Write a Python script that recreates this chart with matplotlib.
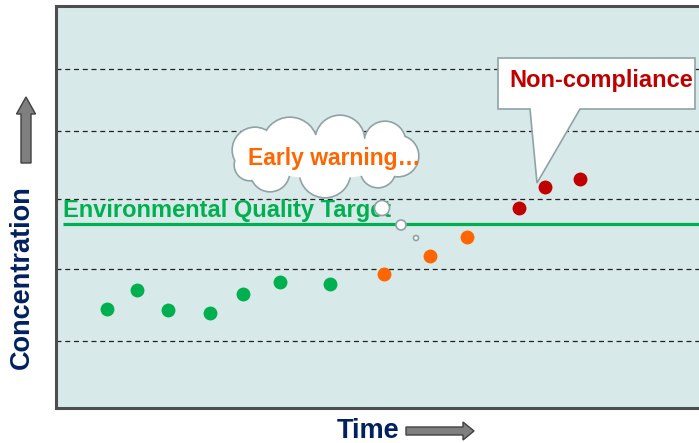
import matplotlib

matplotlib.use("Agg")
import matplotlib.pyplot as plt
from matplotlib.patches import Circle, Ellipse, Polygon, FancyArrow
from matplotlib.transforms import Affine2D

W, H = 699, 443

# Data (arbitrary units, axes run 0..100 on both sides)
green_t = [7.9, 12.5, 17.3, 23.7, 28.7, 34.4, 42.2]
green_c = [24.5, 29.3, 24.3, 23.5, 28.3, 31.3, 30.8]
orange_t = [50.4, 57.6, 63.3]
orange_c = [33.3, 37.8, 42.5]
red_t = [71.2, 75.3, 80.6]
red_c = [49.8, 55.0, 56.8]
grid_c = [84.3, 68.8, 52.0, 34.5, 16.5]
target_c = 45.8

BG = "#d7eae9"
GREEN = "#00b050"
ORANGE = "#ff6600"
RED = "#c00000"
NAVY = "#002060"
EDGE = "#8fa3a6"

plt.rcParams["font.family"] = ["Liberation Sans", "DejaVu Sans"]

fig = plt.figure(figsize=(W / 100, H / 100), dpi=100)
ax = fig.add_axes([56 / W, (H - 407.5) / H, (706 - 56) / W, (407.5 - 6) / H])
ax.set_facecolor(BG)
ax.set_xlim(0, 100)
ax.set_ylim(0, 100)
ax.set_xticks([])
ax.set_yticks([])
for s in ["left", "top", "bottom"]:
    ax.spines[s].set_color("#4d4d4d")
    ax.spines[s].set_linewidth(2.2)
ax.spines["right"].set_visible(False)

# pixel transform (origin top-left) for the decorations
pix = Affine2D().scale(1 / W, -1 / H).translate(0, 1) + fig.transFigure

for g in grid_c:
    ax.axhline(g, color="#222222", lw=0.9, ls=(0, (4, 3)), zorder=1)

ax.hlines(target_c, 1.1, 100, color=GREEN, lw=2.3, zorder=2)
ax.text(1.1, target_c + 1.7, "Environmental Quality Target", color=GREEN,
        fontsize=17, fontweight="bold", va="baseline", ha="left", zorder=3)

ax.plot(green_t, green_c, "o", color=GREEN, ms=10, mec="none", zorder=4)
ax.plot(orange_t, orange_c, "o", color=ORANGE, ms=10, mec="none", zorder=4)
ax.plot(red_t, red_c, "o", color=RED, ms=10, mec="none", zorder=4)

# thought bubble trail
for (x, y, r) in [(382, 208, 7.5), (401, 225, 5), (416, 238, 2.5)]:
    fig.patches.append(Circle((x, y), r, transform=pix, facecolor="white",
                              edgecolor=EDGE, lw=1.2, zorder=5))

# cloud: a few large smooth lobes
lobes = [(255, 150, 22), (290, 145, 27), (340, 140, 24), (385, 142, 20),
         (398, 156, 20), (378, 170, 17), (325, 172, 25), (270, 172, 19),
         (250, 165, 15)]
for (x, y, r) in lobes:
    fig.patches.append(Circle((x, y), r, transform=pix, facecolor="white",
                              edgecolor=EDGE, lw=2.4, zorder=5))
for (x, y, r) in lobes:
    fig.patches.append(Circle((x, y), r, transform=pix, facecolor="white",
                              edgecolor="none", zorder=5.1))
fig.patches.append(Ellipse((325, 157), 140, 44, transform=pix,
                           facecolor="white", edgecolor="none", zorder=5.1))
fig.text(334 / W, 1 - 158 / H, "Early warning\u2026", color=ORANGE,
         fontsize=16.5, fontweight="bold", ha="center", va="center", zorder=6)

# callout
callout = [(498, 58), (695, 58), (695, 109), (580, 109), (537, 183),
           (530, 109), (498, 109)]
fig.patches.append(Polygon(callout, closed=True, transform=pix,
                           facecolor="white", edgecolor=EDGE, lw=1.2, zorder=5))
fig.text(601 / W, 1 - 81 / H, "Non-compliance", color=RED, fontsize=17,
         fontweight="bold", ha="center", va="center", zorder=6)

# axis labels with block arrows
fig.text(22 / W, 1 - 277 / H, "Concentration", color=NAVY, fontsize=19.5,
         fontweight="bold", rotation=90, ha="center", va="center")
fig.text(368 / W, 1 - 431 / H, "Time", color=NAVY, fontsize=19.5,
         fontweight="bold", ha="center", va="center")

fig.patches.append(FancyArrow(26, 163, 0, -66, width=10, head_width=19,
                              head_length=17, length_includes_head=True,
                              transform=pix, facecolor="#7f7f7f",
                              edgecolor="#404040", lw=1))
fig.patches.append(FancyArrow(406, 431, 68, 0, width=8, head_width=18,
                              head_length=11, length_includes_head=True,
                              transform=pix, facecolor="#7f7f7f",
                              edgecolor="#404040", lw=1))

fig.savefig("out.png", dpi=100)
